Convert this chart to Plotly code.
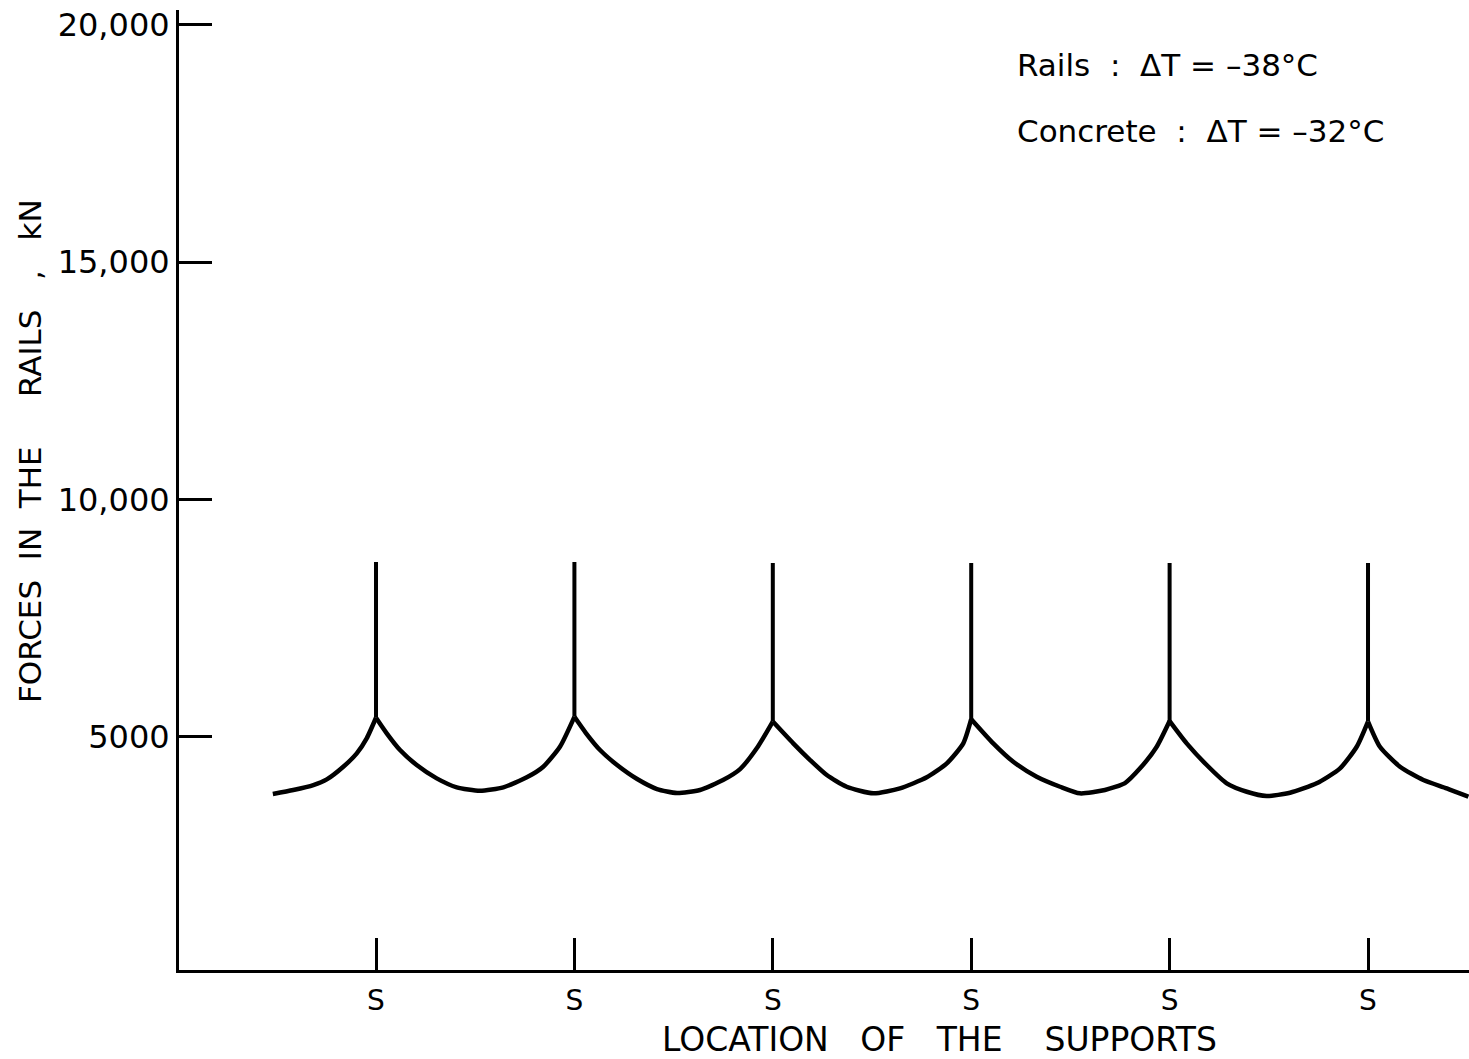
import plotly.graph_objects as go

# ---- data (x in support spacings, force in kN) ----
position = [-0.52, -0.417, -0.316, -0.248, -0.165, -0.097, -0.047, 0.0,
            0.054, 0.121, 0.205, 0.306, 0.407, 0.524, 0.642, 0.760, 0.843, 0.927, 1.0,
            1.058, 1.129, 1.215, 1.316, 1.416, 1.517, 1.633, 1.749, 1.835, 1.920, 2.0,
            2.103, 2.188, 2.272, 2.372, 2.507, 2.641, 2.776, 2.877, 2.960, 3.0,
            3.111, 3.212, 3.330, 3.448, 3.548, 3.674, 3.775, 3.851, 3.935, 4.0,
            4.086, 4.187, 4.288, 4.389, 4.489, 4.607, 4.741, 4.859, 4.943, 5.0,
            5.06, 5.161, 5.279, 5.397, 5.506]
force = [3793, 3877, 3982, 4102, 4368, 4650, 4966, 5400,
         5072, 4720, 4404, 4123, 3934, 3862, 3934, 4144, 4368, 4789, 5420,
         5078, 4720, 4404, 4109, 3898, 3814, 3877, 4088, 4319, 4762, 5320,
         4861, 4509, 4193, 3946, 3807, 3913, 4144, 4439, 4861, 5370,
         4861, 4473, 4157, 3946, 3807, 3877, 4024, 4334, 4789, 5330,
         4861, 4404, 4018, 3841, 3750, 3820, 4018, 4334, 4789, 5320,
         4789, 4368, 4088, 3913, 3736]

supports = [0, 1, 2, 3, 4, 5]
cusp_force = [5400, 5420, 5320, 5370, 5330, 5320]
peak_force = [8680, 8680, 8660, 8660, 8660, 8660]
support_labels = ["S", "S", "S", "S", "S", "S"]

y_ticks = [5000, 10000, 15000, 20000]
y_tick_labels = ["5000", "10,000", "15,000", "20,000"]

FONT = "DejaVu Sans"
NB = "\u00a0"

# split the curve into arcs between supports (cusps stay sharp)
arc_x, arc_y = [], []
for px, fy in zip(position, force):
    arc_x.append(px)
    arc_y.append(fy)
    if px in supports:
        arc_x += [None, px]
        arc_y += [None, fy]

spike_x, spike_y = [], []
for s, c, p in zip(supports, cusp_force, peak_force):
    spike_x += [s, s, None]
    spike_y += [c, p, None]

fig = go.Figure()
fig.add_trace(go.Scatter(x=arc_x, y=arc_y, mode="lines", connectgaps=False,
                         line=dict(color="black", width=4.5, shape="spline", smoothing=0.6),
                         hoverinfo="skip"))
fig.add_trace(go.Scatter(x=spike_x, y=spike_y, mode="lines",
                         line=dict(color="black", width=4), hoverinfo="skip"))

fig.update_layout(
    width=1469, height=1059,
    margin=dict(l=179, r=0, t=10, b=89),
    paper_bgcolor="white", plot_bgcolor="white",
    showlegend=False,
    font=dict(family=FONT, color="black"),
)
fig.update_xaxes(
    range=[-0.993, 5.509], showgrid=False, zeroline=False,
    showline=True, linecolor="black", linewidth=3,
    tickmode="array", tickvals=supports, ticktext=support_labels,
    ticks="inside", ticklen=32, tickwidth=3, tickcolor="black",
    tickfont=dict(family=FONT, size=28, color="black"),
    ticklabelstandoff=3,
)
fig.update_yaxes(
    range=[84, 20316], showgrid=False, zeroline=False,
    showline=True, linecolor="black", linewidth=3,
    tickmode="array", tickvals=y_ticks, ticktext=y_tick_labels,
    ticks="inside", ticklen=33, tickwidth=3, tickcolor="black",
    tickfont=dict(family=FONT, size=32, color="black"),
    ticklabelstandoff=0,
)

fig.add_annotation(
    text=("FORCES" + NB * 2 + "IN" + NB * 2 + "THE" + NB * 5 + "RAILS"
          + NB * 3 + "," + NB * 3 + "kN"),
    xref="paper", yref="paper", x=-0.1155, y=0.5406,
    textangle=-90, showarrow=False,
    font=dict(family=FONT, size=31, color="black"),
    xanchor="center", yanchor="middle",
)
fig.add_annotation(
    text="LOCATION" + NB * 3 + "OF" + NB * 3 + "THE" + NB * 4 + "SUPPORTS",
    xref="paper", yref="paper", x=0.5895, y=-0.0729,
    showarrow=False, font=dict(family=FONT, size=33, color="black"),
    xanchor="center", yanchor="middle",
)
fig.add_annotation(
    text="Rails" + NB * 2 + ":" + NB * 2 + "ΔT" + NB + "=" + NB + "–38°C",
    xref="paper", yref="paper", x=0.648, y=0.9427,
    showarrow=False, font=dict(family=FONT, size=31, color="black"),
    xanchor="left", yanchor="middle",
)
fig.add_annotation(
    text="Concrete" + NB * 2 + ":" + NB * 2 + "ΔT" + NB + "=" + NB + "–32°C",
    xref="paper", yref="paper", x=0.648, y=0.874,
    showarrow=False, font=dict(family=FONT, size=31, color="black"),
    xanchor="left", yanchor="middle",
)

fig.write_html("out.html")
